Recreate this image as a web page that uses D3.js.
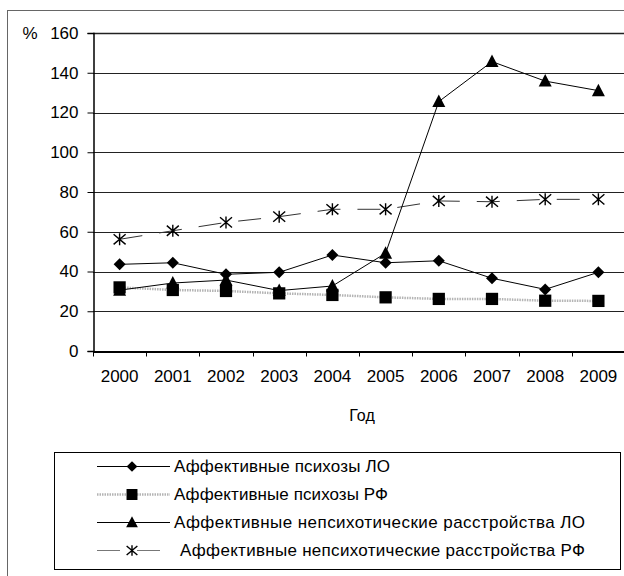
<!DOCTYPE html>
<html>
<head>
<meta charset="utf-8">
<script src="https://cdn.jsdelivr.net/npm/d3@7"></script>
<style>
  body { margin: 0; background: #fff; }
  text { font-family: "Liberation Sans", Arial, sans-serif; fill: #000; }
</style>
</head>
<body>
<div id="chart"></div>
<script>
"use strict";

var years = ["2000", "2001", "2002", "2003", "2004", "2005", "2006", "2007", "2008", "2009"];
var yTicks = [0, 20, 40, 60, 80, 100, 120, 140, 160];

var psychLO = [43.6, 44.4, 38.6, 39.6, 48.3, 44.4, 45.4, 36.6, 31.0, 39.6];
var psychRF = [32.0, 30.7, 30.2, 29.0, 28.2, 27.0, 26.2, 26.2, 25.3, 25.2];
var nonPsychLO = [30.6, 34.2, 35.7, 30.4, 32.7, 49.2, 125.5, 145.6, 135.8, 131.0];
var nonPsychRF = [56.2, 60.5, 64.7, 67.6, 71.3, 71.3, 75.5, 75.1, 76.3, 76.3];

var seriesNames = [
  "Аффективные психозы ЛО",
  "Аффективные психозы РФ",
  "Аффективные непсихотические расстройства ЛО",
  "Аффективные непсихотические расстройства РФ"
];

var width = 624;
var height = 576;
var margin = {top: 33, right: -1, bottom: 225, left: 93};
var fontFamily = "'Liberation Sans', Arial, sans-serif";

var svg = d3.select("#chart").append("svg")
  .attr("width", width)
  .attr("height", height);

// outer frame (runs off the picture to the right and bottom)
svg.append("rect")
  .attr("x", 7.5).attr("y", 10.5)
  .attr("width", 700).attr("height", 700)
  .attr("fill", "none")
  .attr("stroke", "#666");

var x = d3.scaleBand()
  .domain(years)
  .range([margin.left, width - margin.right])
  .padding(0);

var y = d3.scaleLinear()
  .domain([0, 160])
  .range([height - margin.bottom, margin.top]);

// gridlines
svg.append("g")
  .selectAll("line")
  .data(yTicks)
  .enter().append("line")
  .attr("x1", margin.left)
  .attr("x2", width + 10)
  .attr("y1", function(d) { return Math.round(y(d)) + 0.5; })
  .attr("y2", function(d) { return Math.round(y(d)) + 0.5; })
  .attr("stroke", "#222")
  .attr("stroke-width", function(d) { return d === 160 ? 1.5 : 1; });

// y axis
var yAxis = svg.append("g")
  .attr("transform", "translate(" + (margin.left + 0.5) + ",0)")
  .call(d3.axisLeft(y).tickValues(yTicks).tickSize(6).tickPadding(9));
yAxis.selectAll("text").attr("font-size", 17).attr("font-family", fontFamily);
yAxis.selectAll("line, path").attr("stroke", "#000");
yAxis.select(".domain").attr("stroke-width", 1.5);

// x axis: labels at band centres, ticks between bands
var xAxis = svg.append("g")
  .attr("transform", "translate(0," + (Math.round(y(0)) + 0.5) + ")")
  .call(d3.axisBottom(x).tickSize(0).tickPadding(18));
xAxis.selectAll("text").attr("font-size", 17).attr("font-family", fontFamily);
xAxis.select(".domain").attr("stroke", "#000").attr("stroke-width", 2);

xAxis.selectAll("line.sep")
  .data(years.concat(["end"]))
  .enter().append("line")
  .attr("class", "sep")
  .attr("x1", function(d, i) { return Math.round(margin.left + i * x.bandwidth()) + 0.5; })
  .attr("x2", function(d, i) { return Math.round(margin.left + i * x.bandwidth()) + 0.5; })
  .attr("y1", 0).attr("y2", 5)
  .attr("stroke", "#000");

svg.append("text")
  .attr("x", 30).attr("y", 39)
  .attr("text-anchor", "middle")
  .attr("font-size", 17)
  .text("%");

svg.append("text")
  .attr("x", 362).attr("y", 421)
  .attr("text-anchor", "middle")
  .attr("font-size", 16)
  .text("Год");

// marker shapes
var diamondType = {draw: function(ctx, size) {
  var r = Math.sqrt(size) / 2;
  ctx.moveTo(0, -r); ctx.lineTo(r, 0); ctx.lineTo(0, r); ctx.lineTo(-r, 0); ctx.closePath();
}};
var squareType = {draw: function(ctx, size) {
  var r = Math.sqrt(size) / 2;
  ctx.rect(-r, -r, 2 * r, 2 * r);
}};
var triangleType = {draw: function(ctx, size) {
  var r = Math.sqrt(size) / 2;
  ctx.moveTo(0, -r - 1); ctx.lineTo(r + 0.5, r - 0.5); ctx.lineTo(-r - 0.5, r - 0.5); ctx.closePath();
}};
var asteriskType = {draw: function(ctx, size) {
  var r = Math.sqrt(size) / 2;
  ctx.moveTo(0, -r); ctx.lineTo(0, r);
  ctx.moveTo(-r, -r * 0.85); ctx.lineTo(r, r * 0.85);
  ctx.moveTo(-r, r * 0.85); ctx.lineTo(r, -r * 0.85);
}};

var series = [
  {name: seriesNames[0], values: psychLO, stroke: "#000", width: 1, dash: null, type: diamondType, size: 144, filled: true},
  {name: seriesNames[1], values: psychRF, stroke: "#b4b4b4", width: 2.5, dash: "1.5,1", type: squareType, size: 150, filled: true},
  {name: seriesNames[2], values: nonPsychLO, stroke: "#000", width: 1, dash: null, type: triangleType, size: 144, filled: true},
  {name: seriesNames[3], values: nonPsychRF, stroke: "#333", width: 1, dash: "23,17", type: asteriskType, size: 144, filled: false}
];

var line = d3.line()
  .x(function(d, i) { return x(years[i]) + x.bandwidth() / 2; })
  .y(function(d) { return y(d); });

// draw order: RF psychoses line first (it sits beneath the others)
[1, 3, 0, 2].forEach(function(k) {
  var s = series[k];
  svg.append("path")
    .datum(s.values)
    .attr("fill", "none")
    .attr("stroke", s.stroke)
    .attr("stroke-width", s.width)
    .attr("stroke-dasharray", s.dash)
    .attr("d", line);
});

[3, 0, 2, 1].forEach(function(k) {
  var s = series[k];
  svg.append("g").selectAll("path")
    .data(s.values)
    .enter().append("path")
    .attr("transform", function(d, i) {
      return "translate(" + (x(years[i]) + x.bandwidth() / 2) + "," + y(d) + ")";
    })
    .attr("d", d3.symbol().type(s.type).size(s.size))
    .attr("fill", s.filled ? "#000" : "none")
    .attr("stroke", "#000")
    .attr("stroke-width", s.filled ? 0 : 1.4);
});

// legend
var legendBox = {x: 54.5, y: 452.5, w: 566, h: 117};
var legendTextWidth = [216, 214, 411, 405];
svg.append("rect")
  .attr("x", legendBox.x).attr("y", legendBox.y)
  .attr("width", legendBox.w).attr("height", legendBox.h)
  .attr("fill", "#fff")
  .attr("stroke", "#000");

var legend = svg.selectAll("g.legend")
  .data(series)
  .enter().append("g")
  .attr("class", "legend")
  .attr("transform", function(d, i) { return "translate(0," + (466 + i * 28) + ")"; });

legend.append("line")
  .attr("x1", 97).attr("x2", 170)
  .attr("y1", 0.5).attr("y2", 0.5)
  .attr("stroke", function(d) { return d.stroke === "#333" ? "#777" : d.stroke; })
  .attr("stroke-width", function(d) { return d.width; })
  .attr("stroke-dasharray", function(d) { return d.dash; });

legend.append("path")
  .attr("transform", "translate(132,0.5)")
  .attr("d", function(d) { return d3.symbol().type(d.type).size(d.size * 0.8)(); })
  .attr("fill", function(d) { return d.filled ? "#000" : "none"; })
  .attr("stroke", "#000")
  .attr("stroke-width", function(d) { return d.filled ? 0 : 1.4; });

legend.append("text")
  .attr("x", function(d, i) { return i === 3 ? 180 : 174; })
  .attr("y", 6)
  .attr("font-size", 17)
  .attr("textLength", function(d, i) { return legendTextWidth[i]; })
  .attr("lengthAdjust", "spacing")
  .text(function(d) { return d.name; });
</script>
</body>
</html>
